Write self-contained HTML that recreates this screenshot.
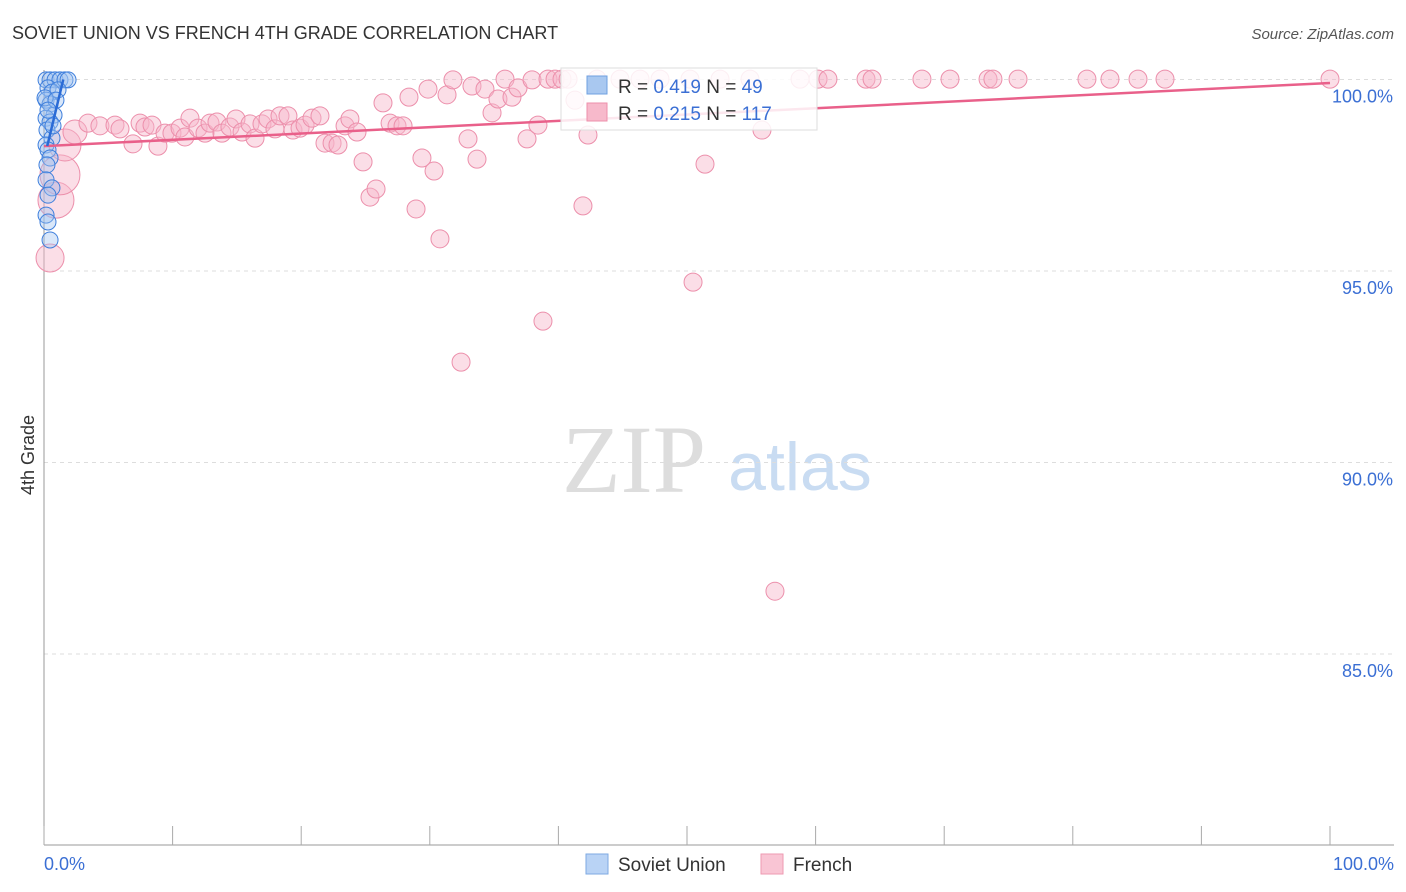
<!DOCTYPE html>
<html><head><meta charset="utf-8"><style>
body{margin:0;background:#fff;font-family:"Liberation Sans",sans-serif}
#wrap{position:relative;width:1406px;height:892px;overflow:hidden}
</style></head><body><div id="wrap">
<svg id="svg" width="1406" height="892" xmlns="http://www.w3.org/2000/svg">
<text x="12" y="39" font-size="18" fill="#333">SOVIET UNION VS FRENCH 4TH GRADE CORRELATION CHART</text>
<text x="1394" y="39" font-size="15" fill="#555" font-style="italic" text-anchor="end">Source: ZipAtlas.com</text>
<text x="634" y="492" font-size="96" fill="#ddd" font-family="Liberation Serif,serif" text-anchor="middle">ZIP</text>
<text x="800" y="490" font-size="68" fill="#c9dcf2" text-anchor="middle">atlas</text>
<text x="34" y="455" font-size="18" fill="#333" transform="rotate(-90 34 455)" text-anchor="middle">4th Grade</text>
<g id="grid"></g><g id="pts"></g><g id="lines"></g>
<g>
<rect x="561" y="68" width="256" height="62" fill="#fff" fill-opacity="0.85" stroke="#ddd"/>
<rect x="587" y="76" width="20" height="18" fill="#a9c8f0" stroke="#6fa0e0"/>
<text x="618" y="93" font-size="19" fill="#333">R = <tspan fill="#3b6fd4">0.419</tspan>   N = <tspan fill="#3b6fd4">49</tspan></text>
<rect x="587" y="103" width="20" height="18" fill="#f7b9cb" stroke="#ee8fab"/>
<text x="618" y="120" font-size="19" fill="#333">R = <tspan fill="#3b6fd4">0.215</tspan>   N = <tspan fill="#3b6fd4">117</tspan></text>
</g>
<g>
<rect x="586" y="854" width="22" height="20" fill="#b9d3f5" stroke="#7ea9e2"/>
<text x="618" y="871" font-size="19" fill="#333">Soviet Union</text>
<rect x="761" y="854" width="22" height="20" fill="#f9c5d4" stroke="#ee9ab2"/>
<text x="793" y="871" font-size="19" fill="#333">French</text>
</g>
</svg></div>
<script>
const yTicks=[100,95,90,85];
const yTickLabels=["100.0%","95.0%","90.0%","85.0%"];
const xTickLabels=["0.0%","100.0%"];
const pinkPx=[[50,258,14],[56,200,18],[60,175,20],[65,145,16],[75,132,12],[88,123,9],[100,126,9],[115,125,9],[120,129,9],[133,144,9],[140,123,9],[145,127,9],[152,125,9],[158,146,9],[165,133,9],[172,133,9],[180,128,9],[185,137,9],[190,118,9],[198,128,9],[205,133,9],[210,123,9],[217,122,9],[222,133,9],[230,127,9],[236,119,9],[242,132,9],[250,124,9],[255,138,9],[262,124,9],[268,119,9],[275,129,9],[280,116,9],[288,116,9],[293,130,9],[300,128,9],[305,125,9],[312,118,9],[320,116,9],[325,143,9],[332,143,9],[338,145,9],[345,126,9],[350,119,9],[357,132,9],[363,162,9],[370,197,9],[376,189,9],[383,103,9],[390,123,9],[397,126,9],[403,126,9],[409,97,9],[416,209,9],[422,158,9],[428,89,9],[434,171,9],[440,239,9],[447,95,9],[453,80,9],[461,362,9],[468,139,9],[472,86,9],[477,159,9],[485,89,9],[492,113,9],[498,99,9],[505,79,9],[512,97,9],[518,88,9],[527,139,9],[532,80,9],[538,125,9],[543,321,9],[548,79,9],[555,79,9],[562,79,9],[568,79,9],[575,100,9],[583,206,9],[588,135,9],[597,79,9],[620,79,9],[640,79,9],[660,79,9],[690,79,9],[693,282,9],[705,164,9],[720,79,9],[750,79,9],[762,130,9],[775,591,9],[800,79,9],[818,79,9],[828,79,9],[866,79,9],[872,79,9],[922,79,9],[950,79,9],[988,79,9],[993,79,9],[1018,79,9],[1087,79,9],[1110,79,9],[1138,79,9],[1165,79,9],[1330,79,9]];
const bluePx=[[46,80],[50,80],[55,80],[60,80],[65,80],[68,80],[48,88],[52,92],[58,90],[46,100],[50,104],[54,115],[46,118],[50,122],[47,130],[52,138],[46,145],[48,150],[50,158],[47,165],[46,180],[52,188],[48,195],[46,215],[48,222],[50,240],[45,98],[56,100],[48,110],[53,126]];
// convert read pixel positions to data values (percent)
const frenchX=pinkPx.map(p=>+((p[0]-44)/12.86).toFixed(2));
const frenchY=pinkPx.map(p=>+(100-(p[1]-79.5)/38.3).toFixed(2));
const frenchW=pinkPx.map(p=>p[2]);
const sovietX=bluePx.map(p=>+((p[0]-44)/12.86).toFixed(2));
const sovietY=bluePx.map(p=>+(100-(p[1]-79.5)/38.3).toFixed(2));
const frenchTrend=[[0,98.26],[100,99.91]];
const sovietTrend=[[0.25,98.26],[1.5,100]];
const X=v=>44+v*12.86, Y=v=>79.5+(100-v)*38.3;
const NS="http://www.w3.org/2000/svg";
function mk(t,a,parent){const e=document.createElementNS(NS,t);for(const k in a)e.setAttribute(k,a[k]);document.getElementById(parent).appendChild(e);return e;}
const g="grid";
yTicks.forEach((t,i)=>{
 const l=mk("line",{x1:44,x2:1394,y1:Y(t),y2:Y(t),stroke:"#ddd","stroke-dasharray":"4,4"},g);
 
 
 const tx=mk("text",{x:1393,y:Y(t)+23,"font-size":18,fill:"#3b6fd4","text-anchor":"end"},g);tx.textContent=yTickLabels[i];
 
 
});
const ax=mk("line",{x1:44,x2:44,y1:70,y2:845,stroke:"#999"},g);


const bx=mk("line",{x1:44,x2:1394,y1:845,y2:845,stroke:"#999"},g);


for(let i=0;i<=10;i++){const t=mk("line",{x1:X(i*10),x2:X(i*10),y1:826,y2:845,stroke:"#aaa"},g);
 
 }
[[0,"start",44],[100,"end",1394]].forEach((d,i)=>{const t=mk("text",{x:d[2],y:870,"font-size":18,fill:"#3b6fd4","text-anchor":d[1]},g);t.textContent=xTickLabels[i];
 
 });
frenchX.forEach((x,i)=>{const c=mk("circle",{cx:X(x),cy:Y(frenchY[i]),r:frenchW[i],fill:"#f7b6c9","fill-opacity":0.45,stroke:"#ec8fab","stroke-width":1},"pts");
 
 });
sovietX.forEach((x,i)=>{const c=mk("circle",{cx:X(x),cy:Y(sovietY[i]),r:8,fill:"#9fc2ef","fill-opacity":0.4,stroke:"#3f7fdc","stroke-width":1},"pts");
 
 });
const fl=mk("line",{x1:X(frenchTrend[0][0]),y1:Y(frenchTrend[0][1]),x2:X(frenchTrend[1][0]),y2:Y(frenchTrend[1][1]),stroke:"#e9608a","stroke-width":2.5},"lines");


const sl=mk("line",{x1:X(sovietTrend[0][0]),y1:Y(sovietTrend[0][1]),x2:X(sovietTrend[1][0]),y2:Y(sovietTrend[1][1]),stroke:"#2a6bd6","stroke-width":2.5},"lines");


</script></body></html>
